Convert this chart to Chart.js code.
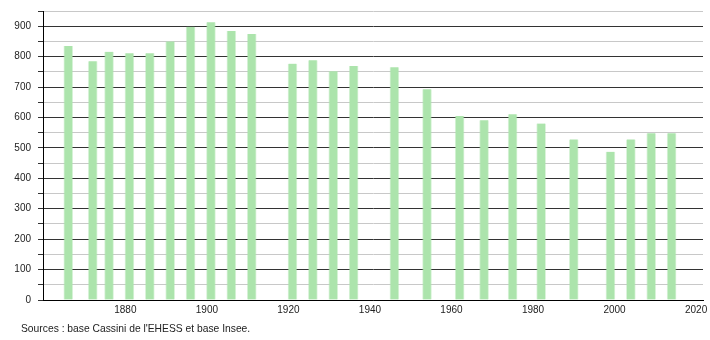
<!DOCTYPE html>
<html>
<head>
<meta charset="utf-8">
<script src="https://cdn.jsdelivr.net/npm/chart.js@4/dist/chart.umd.min.js"></script>
<style>
  body { margin: 0; background: #fff; }
  #wrap { width: 710px; height: 340px; position: relative; }
</style>
</head>
<body>
<div id="wrap"><canvas id="chart"></canvas></div>
<script>
// annees des recensements
const ANNEES = [1866, 1872, 1876, 1881, 1886, 1891, 1896, 1901, 1906, 1911,
  1921, 1926, 1931, 1936, 1946, 1954, 1962, 1968, 1975, 1982,
  1990, 1999, 2004, 2009, 2014];

// population
const POPULATION = [835, 785, 816, 811, 811, 850, 898, 913, 884, 874,
  777, 788, 752, 769, 765, 693, 605, 591, 611, 580,
  528, 487, 528, 548, 548];

const X_TICKS = [1880, 1900, 1920, 1940, 1960, 1980, 2000, 2020];
const SOURCE = "Sources : base Cassini de l'EHESS et base Insee.";

const points = ANNEES.map((a, i) => ({ x: a, y: POPULATION[i] }));

// texte des sources en bas a gauche
const sourcePlugin = {
  id: 'source',
  afterDraw(chart) {
    const ctx = chart.ctx;
    ctx.save();
    ctx.font = '10.3px "Liberation Sans", Arial, sans-serif';
    ctx.fillStyle = '#222';
    ctx.textBaseline = 'middle';
    ctx.fillText(SOURCE, 21, 329);
    ctx.restore();
  }
};

new Chart("chart", {
  type: "bar",
  data: {
    datasets: [{
      data: points,
      backgroundColor: 'rgb(172, 228, 172)',
      borderColor: 'rgba(172, 228, 172, 0.45)',
      borderWidth: { left: 1, right: 1, top: 0, bottom: 0 },
      borderSkipped: false,
      barThickness: 9,
    }]
  },
  options: {
    responsive: true,
    maintainAspectRatio: false,
    animation: false,
    layout: { padding: { top: 11, right: 7, left: 0, bottom: 0 } },
    plugins: {
      legend: { display: false },
      tooltip: { enabled: false },
    },
    scales: {
      x: {
        type: 'linear',
        min: 1859.8,
        max: 2021.7,
        offset: false,
        afterBuildTicks(scale) {
          scale.ticks = X_TICKS.map(v => ({ value: v }));
        },
        afterFit(scale) {
          scale.height = 40;
          scale.paddingLeft = 0;
          scale.paddingRight = 0;
        },
        grid: { display: false, drawTicks: false },
        border: { display: true, color: '#000', width: 1 },
        ticks: {
          padding: 4,
          color: '#222',
          maxRotation: 0,
          autoSkip: false,
          font: { size: 10, family: '"Liberation Sans", Arial, sans-serif' },
          callback: v => String(v),
        }
      },
      y: {
        min: 0,
        max: 950,
        afterFit(scale) {
          scale.width = 43;
          scale.paddingTop = 0;
          scale.paddingBottom = 0;
        },
        grid: {
          color: c => (c.tick && c.tick.value % 100 === 0) ? '#333' : '#c8c8c8',
          tickColor: '#333',
          tickLength: 5,
          lineWidth: 1,
        },
        border: { display: true, color: '#000', width: 1 },
        ticks: {
          stepSize: 50,
          autoSkip: false,
          padding: 7,
          color: '#222',
          font: { size: 10, family: '"Liberation Sans", Arial, sans-serif' },
          callback: v => (v % 100 === 0 ? String(v) : ''),
        }
      }
    }
  },
  plugins: [sourcePlugin]
});
</script>
</body>
</html>
